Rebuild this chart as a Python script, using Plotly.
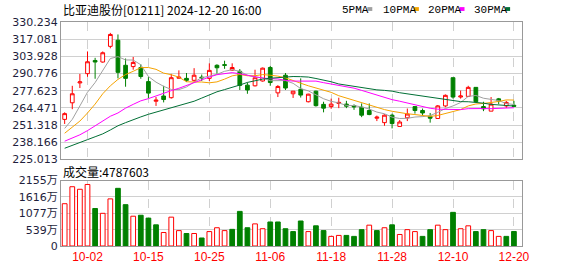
import plotly.graph_objects as go

# ---------------- data ----------------
dates = ["2024-09-26", "2024-09-27", "2024-09-30", "2024-10-02", "2024-10-03", "2024-10-04",
         "2024-10-07", "2024-10-08", "2024-10-09", "2024-10-10", "2024-10-14", "2024-10-15",
         "2024-10-16", "2024-10-17", "2024-10-18", "2024-10-21", "2024-10-22", "2024-10-23",
         "2024-10-24", "2024-10-25", "2024-10-28", "2024-10-29", "2024-10-30", "2024-10-31",
         "2024-11-01", "2024-11-04", "2024-11-05", "2024-11-06", "2024-11-07", "2024-11-08",
         "2024-11-11", "2024-11-12", "2024-11-13", "2024-11-14", "2024-11-15", "2024-11-18",
         "2024-11-19", "2024-11-20", "2024-11-21", "2024-11-22", "2024-11-25", "2024-11-26",
         "2024-11-27", "2024-11-28", "2024-11-29", "2024-12-02", "2024-12-03", "2024-12-04",
         "2024-12-05", "2024-12-06", "2024-12-09", "2024-12-10", "2024-12-11", "2024-12-12",
         "2024-12-13", "2024-12-16", "2024-12-17", "2024-12-18", "2024-12-19", "2024-12-20"]

open_ = [255.7, 268.4, 283.6, 290.7, 300.8, 299.6, 311.6, 316.3, 297.1, 296.1,
         295.4, 284.6, 269.6, 273.6, 272.3, 287.2, 287.1, 285.6, 288.0, 287.1,
         297.1, 297.6, 293.4, 292.5, 281.9, 281.4, 285.1, 295.4, 276.0, 289.5,
         275.3, 278.7, 269.2, 277.3, 267.2, 265.5, 267.9, 267.4, 266.2, 265.0,
         262.5, 256.6, 253.2, 258.9, 250.3, 256.9, 265.5, 262.5, 258.1, 256.4,
         266.0, 287.6, 272.8, 273.3, 280.2, 265.5, 262.0, 271.4, 266.0, 266.5]
high = [261.1, 281.4, 290.5, 307.7, 302.8, 307.7, 321.9, 320.7, 302.3, 303.5,
        297.9, 288.0, 272.8, 281.4, 290.5, 293.2, 291.2, 294.9, 290.0, 298.6,
        297.9, 300.6, 298.6, 294.2, 283.9, 293.7, 295.4, 296.6, 281.9, 291.2,
        277.3, 287.1, 275.3, 277.7, 269.2, 271.6, 272.3, 269.9, 267.2, 267.9,
        267.9, 258.6, 259.6, 260.1, 255.2, 264.0, 265.5, 264.0, 260.6, 266.7,
        274.8, 287.6, 277.7, 281.4, 280.2, 269.2, 272.8, 272.1, 269.9, 269.9]
low = [252.2, 263.5, 279.7, 288.3, 286.8, 299.1, 310.1, 287.1, 280.7, 293.7,
       286.8, 272.1, 266.0, 268.7, 271.6, 286.9, 284.4, 284.6, 285.1, 285.1,
       290.7, 294.4, 292.9, 278.2, 275.3, 280.9, 284.6, 281.4, 272.8, 278.2,
       272.1, 272.4, 268.7, 265.5, 261.1, 263.8, 264.3, 264.3, 263.0, 257.4,
       258.9, 254.4, 250.8, 248.8, 250.3, 254.4, 260.1, 258.1, 253.2, 256.4,
       265.0, 271.6, 271.6, 272.8, 268.7, 262.0, 262.0, 267.4, 264.5, 265.5]
close = [260.1, 275.3, 284.4, 299.8, 299.6, 306.7, 320.7, 291.7, 287.1, 299.3,
         288.5, 275.8, 270.4, 270.9, 287.6, 288.0, 285.6, 289.5, 287.5, 293.2,
         295.2, 297.1, 295.4, 281.7, 278.2, 287.6, 294.9, 283.9, 280.9, 279.7,
         277.3, 274.3, 275.0, 266.2, 264.3, 267.4, 268.7, 265.8, 265.3, 258.9,
         259.4, 257.4, 258.9, 252.5, 253.7, 259.8, 262.5, 260.6, 256.6, 266.0,
         274.1, 272.8, 273.6, 280.2, 269.2, 263.8, 267.4, 269.9, 268.7, 265.7]

# volume in 万 (10k shares)
volume = [1394, 1954, 1870, 2028, 1236, 1077, 1553, 1901, 1363, 982,
          1014, 919, 697, 444, 951, 507, 412, 412, 264, 475,
          602, 507, 549, 1141, 602, 729, 570, 792, 792, 570,
          475, 824, 475, 665, 507, 317, 349, 349, 317, 539,
          687, 507, 602, 697, 380, 539, 475, 317, 539, 687,
          539, 1109, 570, 665, 475, 539, 507, 317, 317, 478.7603]

ma5 = [248.8, 255.7, 266.0, 276.5, 283.9, 293.2, 302.3, 303.7, 301.2, 301.1,
       297.5, 288.5, 284.2, 281.0, 278.6, 278.5, 280.5, 284.3, 287.6, 288.8,
       290.2, 292.5, 293.7, 292.5, 289.5, 288.0, 287.6, 285.3, 285.1, 285.4,
       283.3, 279.3, 277.5, 274.6, 271.5, 269.5, 268.3, 266.4, 266.3, 265.2,
       263.6, 261.3, 260.0, 257.4, 256.4, 256.5, 257.5, 257.8, 258.6, 261.1,
       264.0, 266.0, 268.6, 273.3, 274.0, 271.9, 270.8, 270.1, 267.8, 267.1]
ma10 = [245.1, 249.5, 254.4, 260.6, 267.4, 275.3, 281.4, 286.3, 290.0, 292.5,
        295.3, 295.4, 294.0, 291.1, 289.9, 288.0, 284.5, 284.3, 284.3, 283.7,
        284.4, 286.5, 289.0, 290.1, 289.1, 289.1, 290.0, 289.5, 288.8, 287.5,
        285.7, 283.4, 281.4, 279.8, 278.4, 276.4, 273.8, 272.0, 270.4, 268.3,
        266.6, 264.8, 263.2, 261.9, 260.8, 260.0, 259.4, 258.9, 258.0, 258.7,
        260.2, 261.8, 263.2, 266.0, 267.5, 267.9, 268.4, 269.4, 270.6, 270.5]
ma20 = [239.0, 241.4, 243.9, 247.1, 250.8, 254.5, 258.1, 260.6, 264.3, 267.2,
        269.9, 271.6, 273.8, 275.8, 277.7, 279.5, 281.7, 283.9, 286.0, 288.1,
        289.9, 290.9, 291.5, 290.6, 289.5, 288.6, 287.3, 286.9, 286.6, 285.6,
        285.0, 285.0, 285.2, 285.0, 283.8, 282.8, 281.9, 280.7, 279.6, 277.9,
        276.1, 274.1, 272.3, 270.8, 269.6, 268.2, 266.6, 265.4, 264.2, 263.5,
        263.4, 263.3, 263.2, 263.9, 264.2, 264.0, 263.9, 264.1, 264.3, 264.6]
ma30 = [233.6, 235.6, 237.8, 240.2, 242.4, 244.6, 247.6, 250.8, 253.2, 255.7,
        257.6, 259.6, 261.3, 262.8, 264.4, 266.2, 267.6, 269.6, 272.0, 274.5,
        276.8, 278.5, 280.0, 282.0, 284.0, 285.5, 286.5, 287.2, 287.7, 287.9,
        288.5, 288.4, 288.1, 287.0, 285.8, 284.5, 282.8, 281.9, 281.2, 279.8,
        278.9, 278.3, 277.9, 277.3, 276.1, 275.2, 274.4, 273.5, 272.4, 271.5,
        270.8, 270.0, 269.3, 269.2, 268.9, 268.1, 267.2, 266.7, 266.3, 265.9]

x_tick_dates = ["2024-10-02", "2024-10-15", "2024-10-25", "2024-11-06",
                "2024-11-18", "2024-11-28", "2024-12-10", "2024-12-20"]
x_tick_labels = ["10-02", "10-15", "10-25", "11-06", "11-18", "11-28", "12-10", "12-20"]
price_ticks = [225.013, 238.166, 251.318, 264.471, 277.623, 290.776, 303.928, 317.081, 330.234]
vol_ticks = [0, 539, 1077, 1616, 2155]
vol_tick_labels = ["0", "539万", "1077万", "1616万", "2155万"]
last_volume = 4787603
title_text = "比亚迪股份[01211] 2024-12-20 16:00"
ma_names = ["5PMA", "10PMA", "20PMA", "30PMA"]

# ---------------- style ----------------
RED = "#ff0000"
GREEN = "#008000"
MA_COLORS = ["#a0a0a0", "#f5a300", "#ff00ff", "#006f35"]
GRID = "#d0d0d0"
FRAME = "#999999"

W, H = 578, 276
L, R, T, B = 57, 56, 22, 21
PW, PH = W - L - R, H - T - B


def px_x(px):
    return (px - L) / PW


def px_y(py):
    return (H - B - py) / PH


# volume colors: up vs previous close
vol_up = []
for i in range(len(close)):
    if i == 0:
        vol_up.append(close[i] >= open_[i])
    else:
        vol_up.append(close[i] >= close[i - 1])
vol_fill = ["#ffffff" if u else GREEN for u in vol_up]
vol_line = [RED if u else GREEN for u in vol_up]

fig = go.Figure()

fig.add_trace(go.Candlestick(
    x=dates, open=open_, high=high, low=low, close=close,
    increasing=dict(line=dict(color=RED, width=1), fillcolor="#ffffff"),
    decreasing=dict(line=dict(color=GREEN, width=1), fillcolor=GREEN),
    whiskerwidth=0, xaxis="x", yaxis="y", showlegend=False, hoverinfo="skip"))

for name, series, col in zip(ma_names, [ma5, ma10, ma20, ma30], MA_COLORS):
    fig.add_trace(go.Scatter(x=dates, y=series, mode="lines", name=name,
                             line=dict(color=col, width=1), xaxis="x", yaxis="y",
                             showlegend=False, hoverinfo="skip"))

fig.add_trace(go.Bar(x=dates, y=volume, width=0.62,
                     marker=dict(color=vol_fill, line=dict(color=vol_line, width=1)),
                     xaxis="x2", yaxis="y2", showlegend=False, hoverinfo="skip"))

axis_common = dict(showline=True, mirror=True, linecolor=FRAME, linewidth=1,
                   zeroline=False, ticks="")

price_dom0 = px_y(165)
vol_dom1 = px_y(187)

fig.update_layout(
    width=W, height=H,
    margin=dict(l=L, r=R, t=T, b=B, pad=0),
    paper_bgcolor="#ffffff", plot_bgcolor="#ffffff",
    boxgap=0.3,
    bargap=0.3,
    xaxis=dict(type="category", range=[-0.48, 60.06], domain=[0, 1], anchor="y",
               tickvals=x_tick_dates, ticktext=x_tick_labels, showticklabels=False,
               showgrid=True, gridcolor=GRID, griddash="dash", gridwidth=1,
               rangeslider=dict(visible=False), **axis_common),
    yaxis=dict(range=[price_ticks[0], price_ticks[-1]], domain=[price_dom0, 1], anchor="x",
               tickvals=price_ticks, ticktext=["%.3f" % v for v in price_ticks],
               tickfont=dict(family="DejaVu Sans", size=11, color="#1e1e3c"),
               showgrid=True, gridcolor=GRID, gridwidth=1, **axis_common),
    xaxis2=dict(type="category", range=[-0.48, 60.06], domain=[0, 1], anchor="y2",
                matches="x",
                tickvals=x_tick_dates, ticktext=x_tick_labels, showticklabels=True,
                tickfont=dict(family="Liberation Sans", size=12, color=RED),
                showgrid=True, gridcolor=GRID, griddash="dash", gridwidth=1, **axis_common),
    yaxis2=dict(range=[vol_ticks[0], vol_ticks[-1]], domain=[0, vol_dom1], anchor="x2",
                tickvals=vol_ticks, ticktext=vol_tick_labels,
                tickfont=dict(family="DejaVu Sans, Noto Sans CJK SC", size=11, color="#1e1e3c"),
                showgrid=True, gridcolor=GRID, gridwidth=1, **axis_common),
)

annotations = [
    dict(text=title_text, x=px_x(57), y=px_y(9), xref="paper", yref="paper",
         xanchor="left", yanchor="middle", showarrow=False,
         font=dict(family="Noto Sans CJK SC", size=12, color="#000000")),
    dict(text="成交量:%d" % last_volume, x=px_x(57), y=px_y(177), xref="paper", yref="paper",
         xanchor="left", yanchor="middle", showarrow=False,
         font=dict(family="Noto Sans CJK SC", size=12, color="#000000")),
]
legend_text_x = [338, 380, 425, 472]
legend_box_x = [366, 413, 459, 505]
shapes = []
for name, tx, bx, col in zip(ma_names, legend_text_x, legend_box_x, MA_COLORS):
    annotations.append(dict(text=name, x=px_x(tx), y=px_y(9), xref="paper", yref="paper",
                            xanchor="left", yanchor="middle", showarrow=False,
                            font=dict(family="Liberation Mono", size=11, color="#000000")))
    shapes.append(dict(type="rect", xref="paper", yref="paper",
                       x0=px_x(bx), x1=px_x(bx + 5), y0=px_y(10.5), y1=px_y(6.5),
                       fillcolor=col, line=dict(width=0)))
fig.update_layout(annotations=annotations, shapes=shapes)

fig.write_html("out.html")
